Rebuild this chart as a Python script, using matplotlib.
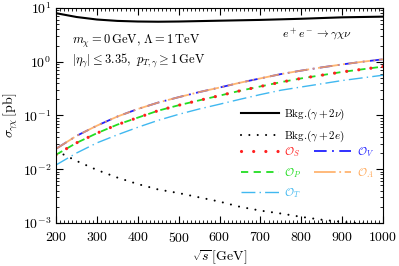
import numpy as np
import matplotlib
matplotlib.use("Agg")
import matplotlib.pyplot as plt

plt.rcParams['font.family'] = 'serif'
plt.rcParams['font.serif'] = ['cmr10']
plt.rcParams['mathtext.fontset'] = 'cm'
plt.rcParams['axes.formatter.use_mathtext'] = True

# sqrt(s) in GeV and cross sections in pb
sqrt_s = [200, 250, 300, 350, 400, 450, 500, 550, 600, 650, 700, 750, 800, 850, 900, 950, 1000]
bkg_nu = [8.0, 6.8, 6.1, 5.75, 5.6, 5.55, 5.6, 5.7, 5.8, 5.9, 6.0, 6.15, 6.3, 6.5, 6.7, 6.8, 6.9]
bkg_e = [0.022, 0.0143, 0.0097, 0.0070, 0.0053, 0.0042, 0.0036, 0.0030, 0.0025, 0.0020,
         0.0017, 0.0015, 0.0013, 0.00115, 0.00105, 0.00098, 0.00093]
sig_S = [0.0186, 0.0309, 0.0468, 0.0676, 0.0912, 0.123, 0.155, 0.191, 0.234, 0.288,
         0.347, 0.417, 0.490, 0.562, 0.646, 0.724, 0.813]
sig_P = sig_S
sig_V = [0.0240, 0.0417, 0.0646, 0.0955, 0.132, 0.174, 0.219, 0.272, 0.331, 0.407,
         0.490, 0.589, 0.684, 0.785, 0.891, 1.0, 1.109]
sig_A = sig_V
sig_T = [0.0120, 0.0200, 0.0309, 0.0437, 0.0603, 0.0813, 0.105, 0.132, 0.162, 0.200,
         0.245, 0.295, 0.339, 0.389, 0.447, 0.501, 0.562]

c_S, c_P, c_V, c_A, c_T = '#ff2020', '#22dd22', '#2020ff', '#ffa858', '#40b8f0'

fig = plt.figure(figsize=(3.99, 2.66), dpi=100)
ax = fig.add_axes([0.1404, 0.1617, 0.8196, 0.8083])

l_nu, = ax.plot(sqrt_s, bkg_nu, color='black', lw=1.5)
l_e, = ax.plot(sqrt_s, bkg_e, color='black', lw=1.5, linestyle=(0, (0.01, 4.0)),
               dash_capstyle='round')
l_V, = ax.plot(sqrt_s, sig_V, color=c_V, lw=1.3, linestyle=(0, (7, 3, 1, 3)))
l_A, = ax.plot(sqrt_s, sig_A, color=c_A, lw=1.3, linestyle=(0, (12, 2, 1, 2)), alpha=0.85)
l_P, = ax.plot(sqrt_s, sig_P, color=c_P, lw=1.3, linestyle=(0, (4, 3)))
l_S, = ax.plot(sqrt_s, sig_S, color=c_S, lw=2.3, linestyle=(0, (0.01, 3.8)),
               dash_capstyle='round')
l_T, = ax.plot(sqrt_s, sig_T, color=c_T, lw=1.0, linestyle=(0, (10, 3, 1, 3)))

ax.set_yscale('log')
ax.set_xlim(200, 1000)
ax.set_ylim(1e-3, 1e1)
ax.set_xticks(range(200, 1001, 100))
ax.set_xticks(range(200, 1001, 10), minor=True)
ax.tick_params(which='both', direction='in', top=True, right=True, labelsize=10)
ax.tick_params(which='major', length=5)
ax.tick_params(which='minor', length=2.5)
ax.tick_params(axis='x', which='major', pad=6)
ax.set_xlabel(r'$\sqrt{s}\,[\mathrm{GeV}]$', fontsize=10, labelpad=2)
ax.set_ylabel(r'$\sigma_{\gamma\chi}\,[\mathrm{pb}]$', fontsize=10, labelpad=2)

ax.text(0.05, 0.835, r'$m_\chi=0\,\mathrm{GeV},\,\Lambda=1\,\mathrm{TeV}$', transform=ax.transAxes,
        fontsize=9)
ax.text(0.05, 0.745, r'$|\eta_\gamma|\leq3.35,\ p_{T,\gamma}\geq1\,\mathrm{GeV}$',
        transform=ax.transAxes, fontsize=9)
ax.text(0.69, 0.86, r'$e^+e^-\to\gamma\chi\nu$', transform=ax.transAxes, fontsize=8.5)

leg1 = ax.legend([l_nu, l_e], [r'Bkg.$(\gamma+2\nu)$', r'Bkg.$(\gamma+2e)$'],
                 loc='upper left', bbox_to_anchor=(0.565, 0.54), frameon=False,
                 fontsize=8, borderpad=0, borderaxespad=0, handlelength=3.4,
                 handletextpad=0.5, labelspacing=0.6)
ax.add_artist(leg1)
leg2 = ax.legend([l_S, l_P, l_T, l_V, l_A],
                 [r'$\mathcal{O}_S$', r'$\mathcal{O}_P$', r'$\mathcal{O}_T$',
                  r'$\mathcal{O}_V$', r'$\mathcal{O}_A$'],
                 ncol=2, loc='upper left', bbox_to_anchor=(0.565, 0.362), frameon=False,
                 fontsize=8, borderpad=0, borderaxespad=0, handlelength=3.4,
                 handletextpad=0.5, labelspacing=0.6, columnspacing=1.1)
for t, c in zip(leg2.get_texts(), [c_S, c_P, c_T, c_V, c_A]):
    t.set_color(c)

fig.savefig('out.png', dpi=100)
